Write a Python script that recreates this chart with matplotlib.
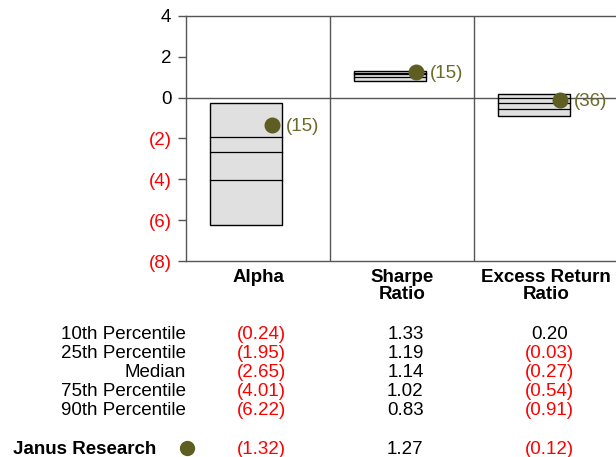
import matplotlib
matplotlib.use("Agg")
import matplotlib.pyplot as plt
from matplotlib import transforms

plt.rcParams['font.family'] = ['Liberation Sans', 'DejaVu Sans']

# data
metrics = ["Alpha", "Sharpe\nRatio", "Excess Return\nRatio"]
p10 = [-0.24, 1.33, 0.20]
p25 = [-1.95, 1.19, -0.03]
median = [-2.65, 1.14, -0.27]
p75 = [-4.01, 1.02, -0.54]
p90 = [-6.22, 0.83, -0.91]
fund_name = "Janus Research"
fund = [-1.32, 1.27, -0.12]
ranks = [15, 15, 36]
row_names = ["10th Percentile", "25th Percentile", "Median", "75th Percentile", "90th Percentile"]
yticks = [4, 2, 0, -2, -4, -6, -8]

olive = "#5e5e22"
grid_gray = "#555555"
fs = 13.5

fig = plt.figure(figsize=(6.16, 4.57), dpi=100)
ax = fig.add_axes([186 / 616, (457 - 261) / 457, 432 / 616, 245 / 457])
ax.set_xlim(0, 3)
ax.set_ylim(-8, 4)

for s in ax.spines.values():
    s.set_color(grid_gray)
    s.set_linewidth(1)

# panel separators and zero line
for i in (1, 2):
    ax.axvline(i, color=grid_gray, lw=1)
ax.axhline(0, color=grid_gray, lw=1)

box_l, box_r = 0.17, 0.67
for i in range(3):
    lo, hi = min(p10[i], p90[i]), max(p10[i], p90[i])
    ax.bar(i + (box_l + box_r) / 2, hi - lo, bottom=lo, width=box_r - box_l,
           color="#e0e0e0", edgecolor="black", linewidth=1, zorder=2)
    for v in (p25[i], median[i], p75[i]):
        ax.plot([i + box_l, i + box_r], [v, v], color="black", lw=0.9, zorder=3)
    ax.plot(i + 0.595, fund[i], "o", color=olive, ms=10.5, zorder=4)
    ax.annotate(f"({ranks[i]})", (i + 0.595, fund[i]), xytext=(10, -1),
                textcoords="offset points", va="center", ha="left",
                color="#6b6b2a", fontsize=fs)

# y axis
ax.set_yticks(yticks)
ax.set_yticklabels([str(v) if v >= 0 else f"({abs(v)})" for v in yticks])
for lab, v in zip(ax.get_yticklabels(), yticks):
    lab.set_color("black" if v >= 0 else "red")
ax.tick_params(axis="y", length=6, width=1, color=grid_gray, pad=4.5, labelsize=fs)

# categories
ax.set_xticks([i + 0.5 for i in range(3)])
ax.set_xticklabels(metrics, fontweight="bold", fontsize=fs, linespacing=1.0)
ax.tick_params(axis="x", length=0, pad=5.5)

# table under the chart
blend = transforms.blended_transform_factory(ax.transData, fig.transFigure)
shift = transforms.offset_copy(blend, fig=fig, x=4.5, units="points")
row_base = [339, 358, 377, 396.5, 415]
cols = [p10, p25, median, p75, p90]


def put_value(x, yf, v):
    if v < 0:
        ax.text(x, yf, f"({abs(v):.2f})", transform=shift, ha="right",
                va="baseline", color="red", fontsize=fs, clip_on=False)
    else:
        ax.text(x, yf, f"{v:.2f}", transform=blend, ha="right",
                va="baseline", color="black", fontsize=fs, clip_on=False)


for r, name in enumerate(row_names):
    yf = (457 - row_base[r]) / 457
    ax.text(0, yf, name, transform=blend, ha="right", va="baseline", fontsize=fs, clip_on=False)
    for i in range(3):
        put_value(i + 0.65, yf, cols[r][i])

yf = (457 - 454) / 457
ax.text(-0.21, yf, fund_name, transform=blend, ha="right", va="baseline",
        fontsize=fs, fontweight="bold", clip_on=False)
ax.plot([0.005], [(457 - 447.5) / 457], "o", color=olive, ms=10, transform=blend, clip_on=False)
for i in range(3):
    put_value(i + 0.65, yf, fund[i])

fig.savefig("out.png", dpi=100)
